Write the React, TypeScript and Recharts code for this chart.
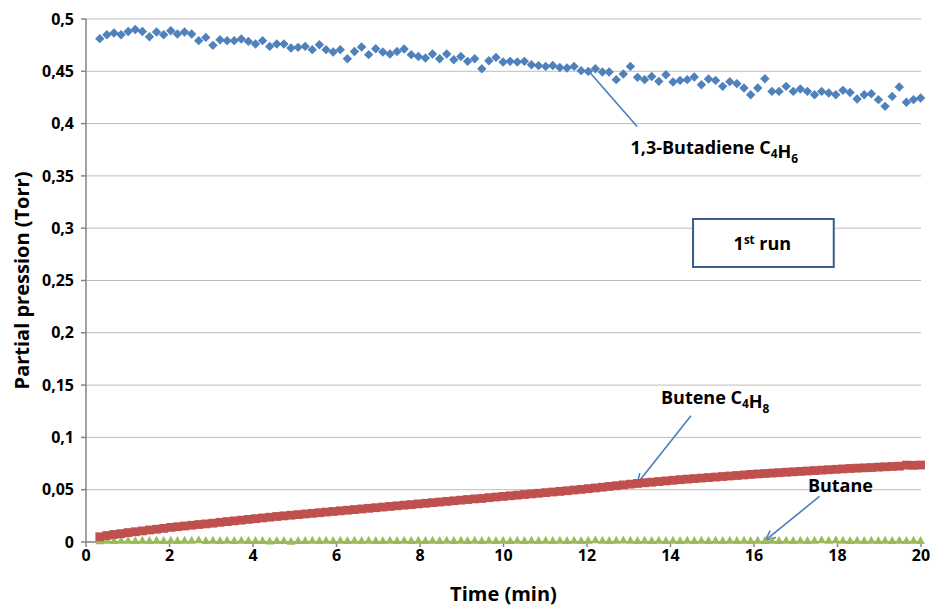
import React from 'react';
import {
  ScatterChart,
  Scatter,
  XAxis,
  YAxis,
  CartesianGrid,
  ReferenceLine,
  ReferenceDot,
  ReferenceArea,
} from 'recharts';

const times = [
  0.33, 0.5, 0.67, 0.84, 1.01, 1.18, 1.35, 1.52, 1.69, 1.86,
  2.03, 2.19, 2.36, 2.53, 2.7, 2.87, 3.04, 3.21, 3.38, 3.55,
  3.72, 3.89, 4.06, 4.23, 4.4, 4.57, 4.74, 4.91, 5.08, 5.25,
  5.42, 5.59, 5.75, 5.92, 6.09, 6.26, 6.43, 6.6, 6.77, 6.94,
  7.11, 7.28, 7.45, 7.62, 7.79, 7.96, 8.13, 8.3, 8.47, 8.64,
  8.81, 8.98, 9.14, 9.31, 9.48, 9.65, 9.82, 9.99, 10.16, 10.33,
  10.5, 10.67, 10.84, 11.01, 11.18, 11.35, 11.52, 11.69, 11.86, 12.03,
  12.2, 12.37, 12.53, 12.7, 12.87, 13.04, 13.21, 13.38, 13.55, 13.72,
  13.89, 14.06, 14.23, 14.4, 14.57, 14.74, 14.91, 15.08, 15.25, 15.42,
  15.59, 15.76, 15.92, 16.09, 16.26, 16.43, 16.6, 16.77, 16.94, 17.11,
  17.28, 17.45, 17.62, 17.79, 17.96, 18.13, 18.3, 18.47, 18.64, 18.81,
  18.98, 19.14, 19.31, 19.48, 19.65, 19.82, 19.99,
];

const butadiene = [
  0.4812, 0.485, 0.4866, 0.485, 0.488, 0.49, 0.488, 0.483, 0.4876, 0.485,
  0.4888, 0.4857, 0.4876, 0.4857, 0.4793, 0.4824, 0.4748, 0.4802, 0.4793, 0.4793,
  0.4809, 0.4786, 0.4761, 0.4793, 0.4738, 0.4761, 0.4761, 0.4723, 0.4729, 0.4738,
  0.4707, 0.4754, 0.4707, 0.4684, 0.4707, 0.462, 0.469, 0.4732, 0.4659,
  0.4716, 0.4684, 0.4665, 0.469, 0.4713, 0.4659, 0.4642, 0.4627, 0.4665, 0.462,
  0.4665, 0.4611, 0.4642, 0.4595, 0.462, 0.4525, 0.4601, 0.4633, 0.4589, 0.4595,
  0.4589, 0.4595, 0.4563, 0.4554, 0.4547, 0.4556, 0.4537, 0.4532, 0.4547, 0.4506,
  0.4499, 0.4525, 0.4493, 0.4493, 0.442, 0.4474, 0.4547, 0.4442, 0.442, 0.4451,
  0.4404, 0.4467, 0.4398, 0.4413, 0.442, 0.4446, 0.4372, 0.4426, 0.4413, 0.4356,
  0.4401, 0.4382, 0.434, 0.4276, 0.434, 0.4429, 0.4308, 0.4308, 0.4356, 0.4308,
  0.4331, 0.4308, 0.4276, 0.4308, 0.4293, 0.4276, 0.4318, 0.4298, 0.4235, 0.4276,
  0.4286, 0.4229, 0.4165, 0.426, 0.435, 0.4204, 0.4229, 0.4245,
];

const butene = [
  0.005, 0.0062, 0.0072, 0.008, 0.009, 0.0098, 0.0106, 0.0115, 0.0122, 0.013,
  0.014, 0.0146, 0.0153, 0.016, 0.0167, 0.0173, 0.018, 0.0188, 0.0195, 0.0202, 0.0209, 0.0216,
  0.0223, 0.023, 0.0237, 0.0244, 0.025, 0.0256, 0.0262, 0.0268, 0.0274, 0.028, 0.0286, 0.0292,
  0.0298, 0.0304, 0.031, 0.0316, 0.0322, 0.0328, 0.0334, 0.034, 0.0346, 0.0352, 0.0358, 0.0364,
  0.037, 0.0376, 0.0382, 0.0388, 0.0394, 0.04, 0.0406, 0.0412, 0.0416, 0.0424, 0.043, 0.0436,
  0.0442, 0.0448, 0.0454, 0.046, 0.0466, 0.0472, 0.0478, 0.0484, 0.049, 0.0497, 0.0503, 0.051,
  0.0517, 0.0524, 0.0531, 0.0538, 0.0546, 0.0553, 0.056, 0.0566, 0.0572, 0.0578, 0.0584, 0.059,
  0.0596, 0.0601, 0.0606, 0.0611, 0.0616, 0.0621, 0.0626, 0.0631, 0.0636, 0.0641, 0.0646, 0.0651,
  0.0655, 0.0659, 0.0663, 0.0667, 0.0671, 0.0675, 0.0679, 0.0683, 0.0687, 0.0691, 0.0695, 0.0699,
  0.0703, 0.0706, 0.0709, 0.0712, 0.0716, 0.0719, 0.0722, 0.0725, 0.0735, 0.0733, 0.0736,
];

const butane = [
  0.0008, 0.0012, 0.001, 0.0011, 0.0012, 0.001, 0.0011, 0.0009, 0.0011, 0.001,
  0.0012, 0.001, 0.0011, 0.0012, 0.0016, 0.001, 0.0011, 0.0009, 0.0011, 0.001,
  0.0011, 0.001, 0.001, 0.0009, 0.0004, 0.0009, 0.001, 0.0003, 0.0009, 0.001,
  0.0011, 0.001, 0.0011, 0.001, 0.0011, 0.001, 0.0011, 0.001, 0.0011, 0.001,
  0.001, 0.0011, 0.001, 0.0011, 0.001, 0.0011, 0.001, 0.0011, 0.001, 0.0011,
  0.001, 0.0011, 0.001, 0.0011, 0.001, 0.0011, 0.001, 0.0011, 0.001, 0.0011,
  0.001, 0.0011, 0.001, 0.0011, 0.001, 0.0011, 0.001, 0.0011, 0.001, 0.0011,
  0.0016, 0.0011, 0.001, 0.0011, 0.0015, 0.0011, 0.001, 0.0011, 0.001, 0.0011,
  0.001, 0.0011, 0.001, 0.0011, 0.001, 0.0011, 0.001, 0.0011, 0.001, 0.0011,
  0.001, 0.0011, 0.001, 0.0011, 0.001, 0.0011, 0.001, 0.0011, 0.001, 0.0011,
  0.001, 0.0011, 0.0017, 0.0011, 0.0016, 0.0011, 0.001, 0.0011, 0.001, 0.0011,
  0.001, 0.0011, 0.001, 0.0011, 0.001, 0.0011, 0.001,
];

const xTicks = [0, 2, 4, 6, 8, 10, 12, 14, 16, 18, 20];
const yTicks = [0, 0.05, 0.1, 0.15, 0.2, 0.25, 0.3, 0.35, 0.4, 0.45, 0.5];

const FONT = '"Open Sans", Lato, sans-serif';
const BLUE = '#4f81bd';
const RED = '#c0504d';
const GREEN = '#9bbb59';
const ARROW = '#4a7ebb';
const AXIS = '#868686';
const GRID = '#bdbdbd';

const blueData = times.map((t, i) => ({ t, v: butadiene[i] }));
const redData = times.map((t, i) => ({ t, v: butene[i] }));
const greenData = times.map((t, i) => ({ t, v: butane[i] }));

const Diamond = (p: any) => {
  const { cx, cy } = p;
  const s = 4.7;
  return <polygon points={`${cx},${cy - s} ${cx + s},${cy} ${cx},${cy + s} ${cx - s},${cy}`} fill={BLUE} />;
};
const Square = (p: any) => {
  const { cx, cy } = p;
  const s = 4.4;
  return <rect x={cx - s} y={cy - s} width={2 * s} height={2 * s} fill={RED} />;
};
const Triangle = (p: any) => {
  const { cx, cy } = p;
  return <polygon points={`${cx},${cy - 5} ${cx + 4.3},${cy + 3} ${cx - 4.3},${cy + 3}`} fill={GREEN} />;
};

const arrowShape = (head: boolean) => (p: any) => {
  const { x1, y1, x2, y2 } = p;
  const ang = Math.atan2(y2 - y1, x2 - x1);
  const L = 11;
  const spread = 0.42;
  const ax = x2 - L * Math.cos(ang - spread);
  const ay = y2 - L * Math.sin(ang - spread);
  const bx = x2 - L * Math.cos(ang + spread);
  const by = y2 - L * Math.sin(ang + spread);
  return (
    <g>
      <line x1={x1} y1={y1} x2={x2} y2={y2} stroke={ARROW} strokeWidth={1.6} />
      {head && (
        <polyline points={`${ax},${ay} ${x2},${y2} ${bx},${by}`} fill="none" stroke={ARROW} strokeWidth={1.6} />
      )}
    </g>
  );
};

const textStyle = { fontFamily: FONT, fontWeight: 700, fill: '#000' } as const;

const chemLabel = (parts: [string, string][], size: number) => (p: any) => {
  const { cx, cy } = p;
  return (
    <text x={cx} y={cy + size * 0.36} textAnchor="middle" fontSize={size} style={textStyle}>
      {parts.map(([main, sub], i) => (
        <React.Fragment key={i}>
          <tspan>{main}</tspan>
          {sub && (
            <tspan fontSize={size * 0.66} dy={size * 0.25}>
              {sub}
            </tspan>
          )}
          {sub && <tspan dy={-size * 0.25}>{''}</tspan>}
        </React.Fragment>
      ))}
    </text>
  );
};

const runLabel = (p: any) => {
  const { cx, cy } = p;
  return (
    <text x={cx} y={cy + 6.5} textAnchor="middle" fontSize={18} style={textStyle}>
      <tspan>1</tspan>
      <tspan fontSize={11.5} dy={-6.5}>st</tspan>
      <tspan dy={6.5}> run</tspan>
    </text>
  );
};

const yFmt = (v: number) => (v === 0 ? '0' : String(v).replace('.', ','));

export default function App() {
  return (
    <div style={{ position: 'absolute', left: 8, top: 8, width: 924, height: 598 }}>
      <ScatterChart width={924} height={598} margin={{ top: 11, right: 11, bottom: 0, left: 0 }}>
        <CartesianGrid vertical={false} stroke={GRID} strokeWidth={1} />
        <XAxis
          type="number"
          dataKey="t"
          domain={[0, 20]}
          ticks={xTicks}
          interval={0}
          height={64}
          stroke={AXIS}
          strokeWidth={1.5}
          tickSize={5}
          tickMargin={3}
          tick={{ fill: '#000', fontSize: 16, fontWeight: 700, fontFamily: FONT }}
          label={{
            content: (props: any) => {
              const vb = props.viewBox || {};
              return (
                <text
                  x={vb.x + vb.width / 2}
                  y={vb.y + vb.height - 5}
                  textAnchor="middle"
                  fontSize={20}
                  style={textStyle}
                >
                  Time (min)
                </text>
              );
            },
          }}
        />
        <YAxis
          type="number"
          dataKey="v"
          domain={[0, 0.5]}
          ticks={yTicks}
          interval={0}
          width={78}
          stroke={AXIS}
          strokeWidth={1.5}
          tickSize={5}
          tickMargin={7}
          tickFormatter={yFmt}
          tick={{ fill: '#000', fontSize: 16, fontWeight: 700, fontFamily: FONT }}
          label={{
            content: (props: any) => {
              const vb = props.viewBox || {};
              const x = vb.x + 21;
              const y = vb.y + vb.height / 2;
              return (
                <text
                  x={x}
                  y={y}
                  transform={`rotate(-90, ${x}, ${y})`}
                  textAnchor="middle"
                  fontSize={20}
                  style={textStyle}
                >
                  Partial pression (Torr)
                </text>
              );
            },
          }}
        />
        <ReferenceArea
          x1={14.54}
          x2={17.91}
          y1={0.2629}
          y2={0.3088}
          fill="#ffffff"
          fillOpacity={1}
          stroke="#385d8a"
          strokeWidth={2}
        />
        <Scatter data={greenData} shape={Triangle} isAnimationActive={false} />
        <Scatter data={redData} shape={Square} isAnimationActive={false} />
        <Scatter data={blueData} shape={Diamond} isAnimationActive={false} />
        <ReferenceLine segment={[{ x: 12.08, y: 0.4484 }, { x: 13.2, y: 0.3973 }]} shape={arrowShape(false)} />
        <ReferenceLine segment={[{ x: 14.49, y: 0.1207 }, { x: 13.2, y: 0.0557 }]} shape={arrowShape(true)} />
        <ReferenceLine segment={[{ x: 17.57, y: 0.0436 }, { x: 16.27, y: 0.0015 }]} shape={arrowShape(true)} />
        <ReferenceDot x={15.05} y={0.3776} r={0} shape={chemLabel([['1,3-Butadiene C', '4'], ['H', '6']], 18)} />
        <ReferenceDot x={15.07} y={0.1386} r={0} shape={chemLabel([['Butene C', '4'], ['H', '8']], 18)} />
        <ReferenceDot x={18.07} y={0.0538} r={0} shape={chemLabel([['Butane', '']], 18)} />
        <ReferenceDot x={16.2} y={0.285} r={0} shape={runLabel} />
      </ScatterChart>
    </div>
  );
}
